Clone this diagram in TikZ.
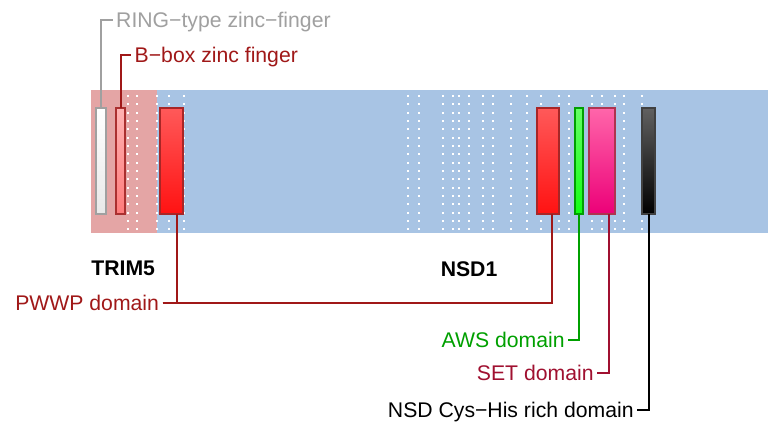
\documentclass[tikz,border=0pt]{standalone}
\usepackage{fontspec}
\setmainfont{Liberation Sans}
\begin{document}
\begin{tikzpicture}[x=1pt,y=-1pt,
  lbl/.style={inner xsep=3.7pt,inner ysep=0pt,outer sep=0pt,text height=15.2pt,text depth=0pt,font=\fontsize{21.2}{25}\selectfont},
  title/.style={inner sep=0pt,outer sep=0pt,font=\fontsize{21.2}{25}\selectfont\bfseries},
  dom/.style={rectangle,inner sep=0pt,outer sep=0pt,minimum height=106pt,line width=2pt},
  conn/.style={line width=2pt}]
\definecolor{bandpink}{HTML}{E4A5A5}
\definecolor{bandblue}{HTML}{A8C4E4}
\definecolor{ringc}{HTML}{A0A0A0}
\definecolor{darkred}{HTML}{A01818}
\definecolor{awsc}{HTML}{00A000}
\definecolor{setc}{HTML}{A01030}
\useasboundingbox (0,0) rectangle (768,424);
\fill[white] (0,0) rectangle (768,424);
% bands
\fill[bandpink] (91,90) rectangle (157,232.7);
\fill[bandblue] (157,90) rectangle (768,232.7);
% dots
\foreach \xx in {128.3,136.7,157,169,183.7,408.3,419.3,442.7,452.7,459.3,469.3,482.7,493.3,510.7,526.7,540.7,559,568.7,592,602,615.3,624.3,642}{
  \foreach \i in {0,...,16}{
    \fill[white] (\xx-1,96+\i*8.33-1) rectangle ++(2,2);
  }
}
% domains
\node[dom,minimum width=9.7pt,draw=ringc,top color=white,bottom color=black!9] (ring) at (101.2,161) {};
\node[dom,minimum width=8.4pt,draw=darkred!90,top color=red!30!white,bottom color=red!52!white] (bbox) at (120.5,161) {};
\node[dom,minimum width=23pt,draw=red!60!black!85,top color=red!65!white,bottom color=red!93!white] (pwa) at (171.8,161) {};
\node[dom,minimum width=22pt,draw=red!60!black!85,top color=red!65!white,bottom color=red!93!white] (pwb) at (547.7,161) {};
\node[dom,minimum width=8.6pt,draw=awsc,top color=green!60!white,bottom color=green!93!white] (aws) at (579,161) {};
\node[dom,minimum width=26.3pt,draw=setc!85,top color={rgb,255:red,255;green,102;blue,170},bottom color={rgb,255:red,236;green,0;blue,120}] (set) at (601.8,161) {};
\node[dom,minimum width=12.4pt,draw=black!75,top color=black!62,bottom color=black] (nsd) at (648.5,161) {};
% titles
\node[title,anchor=base east] (trim) at (155,275.5) {TRIM5};
\node[title,anchor=base east] (nsdone) at (497.3,276.5) {NSD1};
% labels
\node[lbl,anchor=west,text=ringc] (ringl) at (112.5,19.5) {RING−type zinc−finger};
\node[lbl,anchor=west,text=darkred] (bboxl) at (131,54.5) {B−box zinc finger};
\node[lbl,anchor=east,text=darkred] (pwl) at (162.7,302.5) {PWWP domain};
\node[lbl,anchor=east,text=awsc] (awsl) at (568.3,339.5) {AWS domain};
\node[lbl,anchor=east,text=setc] (setl) at (597.3,373) {SET domain};
\node[lbl,anchor=east,text=black] (nsdl) at (637.3,409.5) {NSD Cys−His rich domain};
% connectors
\draw[conn,ringc] (ring.north) |- (ringl.west);
\draw[conn,darkred] (bbox.north) |- (bboxl.west);
\draw[conn,darkred] (pwl.east) -| ([xshift=4.9pt]pwa.south);
\draw[conn,darkred] (pwl.east) -| ([xshift=4.6pt]pwb.south);
\draw[conn,awsc] (awsl.east) -| (aws.south);
\draw[conn,setc] (setl.east) -| ([xshift=6.9pt]set.south);
\draw[conn,black] (nsdl.east) -| (nsd.south);
\end{tikzpicture}
\end{document}
